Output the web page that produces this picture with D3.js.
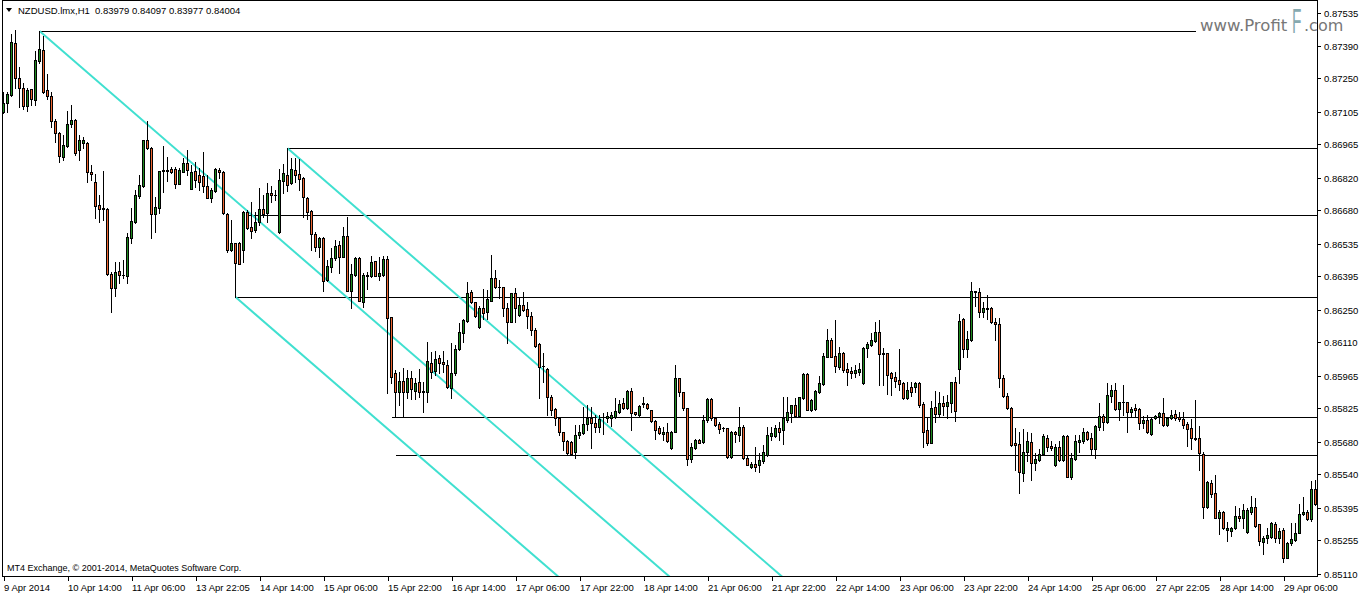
<!DOCTYPE html>
<html><head><meta charset="utf-8">
<script src="https://cdn.jsdelivr.net/npm/d3@7/dist/d3.min.js"></script>
<style>body{margin:0;background:#fff;overflow:hidden}svg{display:block}</style>
</head><body><svg id="c" width="1362" height="594"></svg>
<script>
const opens=[0.87105,0.87144,0.87178,0.87403,0.87252,0.87209,0.87131,0.87204,0.87157,0.87325,0.87373,0.87200,0.87174,0.87066,0.87014,0.86910,0.86958,0.87053,0.87070,0.86941,0.86971,0.86971,0.86846,0.86802,0.86703,0.86690,0.86686,0.86405,0.86344,0.86418,0.86400,0.86396,0.86560,0.86629,0.86742,0.86785,0.86984,0.86950,0.86664,0.86690,0.86850,0.86850,0.86858,0.86858,0.86794,0.86846,0.86884,0.86772,0.86850,0.86832,0.86828,0.86785,0.86733,0.86763,0.86854,0.86846,0.86666,0.86508,0.86537,0.86539,0.86508,0.86673,0.86608,0.86595,0.86629,0.86686,0.86668,0.86755,0.86746,0.86586,0.86807,0.86832,0.86798,0.86854,0.86837,0.86820,0.86733,0.86677,0.86577,0.86521,0.86560,0.86379,0.86435,0.86474,0.86530,0.86478,0.86569,0.86331,0.86400,0.86474,0.86284,0.86396,0.86396,0.86459,0.86396,0.86400,0.86469,0.86217,0.85976,0.85894,0.85942,0.85894,0.85955,0.85899,0.85938,0.85894,0.85894,0.86020,0.85985,0.86041,0.86024,0.86011,0.85912,0.85977,0.86080,0.86149,0.86201,0.86327,0.86282,0.86175,0.86258,0.86240,0.86288,0.86387,0.86348,0.86347,0.86258,0.86197,0.86322,0.86227,0.86271,0.86253,0.86223,0.86162,0.86102,0.86007,0.85996,0.85873,0.85821,0.85782,0.85720,0.85683,0.85680,0.85635,0.85709,0.85717,0.85756,0.85782,0.85761,0.85743,0.85786,0.85782,0.85782,0.85786,0.85808,0.85847,0.85825,0.85899,0.85806,0.85795,0.85843,0.85843,0.85815,0.85769,0.85739,0.85713,0.85722,0.85652,0.85722,0.85955,0.85894,0.85825,0.85605,0.85652,0.85687,0.85678,0.85773,0.85864,0.85782,0.85756,0.85739,0.85739,0.85613,0.85722,0.85709,0.85743,0.85609,0.85570,0.85583,0.85579,0.85596,0.85622,0.85704,0.85704,0.85739,0.85730,0.85773,0.85804,0.85838,0.85791,0.85868,0.85972,0.85817,0.85821,0.85894,0.85929,0.86046,0.86119,0.86050,0.86002,0.86063,0.85994,0.85985,0.85977,0.85981,0.85933,0.86085,0.86098,0.86115,0.86154,0.86059,0.86061,0.85977,0.85959,0.85946,0.85933,0.85868,0.85916,0.85916,0.85933,0.85843,0.85730,0.85674,0.85830,0.85799,0.85847,0.85834,0.85847,0.85936,0.85994,0.86212,0.86080,0.86119,0.86331,0.86327,0.86240,0.86258,0.86258,0.86197,0.86188,0.85955,0.85877,0.85825,0.85674,0.85670,0.85544,0.85635,0.85678,0.85587,0.85600,0.85626,0.85696,0.85661,0.85579,0.85657,0.85600,0.85704,0.85527,0.85605,0.85678,0.85683,0.85722,0.85696,0.85648,0.85743,0.85791,0.85765,0.85877,0.85903,0.85821,0.85851,0.85851,0.85808,0.85825,0.85821,0.85761,0.85773,0.85713,0.85782,0.85791,0.85804,0.85752,0.85782,0.85799,0.85786,0.85778,0.85756,0.85739,0.85696,0.85696,0.85626,0.85397,0.85501,0.85458,0.85350,0.85378,0.85298,0.85293,0.85306,0.85358,0.85350,0.85289,0.85376,0.85397,0.85322,0.85246,0.85263,0.85268,0.85324,0.85263,0.85298,0.85177,0.85242,0.85255,0.85285,0.85367,0.85376,0.85345,0.85475];
const highs=[0.87191,0.87191,0.87442,0.87459,0.87299,0.87230,0.87209,0.87204,0.87369,0.87455,0.87433,0.87269,0.87191,0.87075,0.87018,0.87005,0.87109,0.87135,0.87075,0.87005,0.86997,0.86975,0.86876,0.86837,0.86746,0.86850,0.86690,0.86413,0.86456,0.86456,0.86465,0.86582,0.86690,0.86768,0.86832,0.86984,0.87066,0.86954,0.86737,0.86850,0.86958,0.86910,0.86867,0.86867,0.86863,0.86906,0.86941,0.86876,0.86889,0.86863,0.86932,0.86832,0.86776,0.86863,0.86863,0.86850,0.86668,0.86638,0.86539,0.86543,0.86675,0.86681,0.86716,0.86673,0.86776,0.86746,0.86798,0.86785,0.86768,0.86858,0.86880,0.86948,0.86906,0.86906,0.86902,0.86824,0.86737,0.86681,0.86586,0.86565,0.86565,0.86465,0.86517,0.86551,0.86547,0.86608,0.86651,0.86448,0.86476,0.86476,0.86409,0.86413,0.86482,0.86461,0.86478,0.86482,0.86482,0.86219,0.85990,0.85981,0.85998,0.85990,0.85985,0.85955,0.85994,0.85938,0.86111,0.86067,0.86072,0.86054,0.86072,0.86033,0.86106,0.86098,0.86193,0.86210,0.86370,0.86335,0.86284,0.86266,0.86340,0.86335,0.86487,0.86422,0.86379,0.86350,0.86279,0.86324,0.86344,0.86301,0.86327,0.86284,0.86240,0.86171,0.86106,0.86063,0.85998,0.85881,0.85825,0.85786,0.85722,0.85685,0.85683,0.85752,0.85752,0.85830,0.85838,0.85830,0.85795,0.85795,0.85804,0.85808,0.85808,0.85868,0.85860,0.85868,0.85903,0.85912,0.85808,0.85838,0.85873,0.85847,0.85817,0.85773,0.85747,0.85743,0.85761,0.85724,0.86011,0.85957,0.85896,0.85827,0.85674,0.85691,0.85691,0.85795,0.85868,0.85868,0.85786,0.85765,0.85743,0.85741,0.85726,0.85724,0.85830,0.85752,0.85622,0.85592,0.85657,0.85631,0.85665,0.85743,0.85743,0.85752,0.85765,0.85873,0.85873,0.85840,0.85868,0.85873,0.85977,0.85977,0.85864,0.85903,0.85964,0.86063,0.86167,0.86128,0.86206,0.86089,0.86067,0.86020,0.86002,0.86011,0.86020,0.86089,0.86111,0.86149,0.86197,0.86206,0.86085,0.86063,0.85981,0.85981,0.86080,0.85938,0.85938,0.85938,0.85938,0.85938,0.85851,0.85786,0.85856,0.85899,0.85894,0.85877,0.85881,0.85938,0.85959,0.86232,0.86214,0.86158,0.86370,0.86333,0.86344,0.86284,0.86314,0.86260,0.86214,0.86214,0.85968,0.85890,0.85830,0.85739,0.85722,0.85735,0.85722,0.85717,0.85631,0.85648,0.85713,0.85709,0.85683,0.85670,0.85683,0.85709,0.85709,0.85631,0.85709,0.85709,0.85739,0.85726,0.85717,0.85752,0.85847,0.85799,0.85933,0.85925,0.85933,0.85853,0.85925,0.85853,0.85830,0.85843,0.85827,0.85791,0.85795,0.85782,0.85795,0.85808,0.85868,0.85786,0.85817,0.85817,0.85808,0.85808,0.85765,0.85778,0.85860,0.85747,0.85635,0.85510,0.85514,0.85536,0.85384,0.85380,0.85332,0.85311,0.85402,0.85393,0.85410,0.85393,0.85445,0.85436,0.85324,0.85272,0.85306,0.85332,0.85332,0.85306,0.85306,0.85246,0.85328,0.85328,0.85410,0.85440,0.85384,0.85510,0.85514];
const lows=[0.87100,0.87105,0.87174,0.87209,0.87126,0.87118,0.87109,0.87135,0.87135,0.87317,0.87189,0.87161,0.87040,0.86975,0.86889,0.86897,0.86954,0.87040,0.86919,0.86897,0.86949,0.86802,0.86811,0.86647,0.86629,0.86638,0.86400,0.86240,0.86309,0.86366,0.86387,0.86366,0.86539,0.86625,0.86733,0.86781,0.86947,0.86560,0.86586,0.86668,0.86759,0.86807,0.86841,0.86776,0.86792,0.86844,0.86832,0.86770,0.86781,0.86768,0.86759,0.86731,0.86716,0.86759,0.86820,0.86666,0.86500,0.86506,0.86305,0.86446,0.86456,0.86601,0.86560,0.86586,0.86616,0.86651,0.86629,0.86716,0.86724,0.86584,0.86755,0.86763,0.86794,0.86802,0.86768,0.86651,0.86642,0.86508,0.86504,0.86478,0.86331,0.86374,0.86413,0.86465,0.86409,0.86476,0.86329,0.86258,0.86396,0.86286,0.86262,0.86340,0.86392,0.86394,0.86379,0.86398,0.85890,0.85933,0.85786,0.85838,0.85786,0.85868,0.85864,0.85864,0.85873,0.85808,0.85851,0.85955,0.85968,0.85977,0.85981,0.85912,0.85868,0.85968,0.86076,0.86111,0.86199,0.86279,0.86219,0.86173,0.86210,0.86210,0.86286,0.86346,0.86301,0.86223,0.86106,0.86195,0.86197,0.86223,0.86245,0.86171,0.86141,0.86089,0.85868,0.85938,0.85795,0.85795,0.85752,0.85709,0.85644,0.85622,0.85622,0.85609,0.85696,0.85715,0.85730,0.85652,0.85722,0.85722,0.85713,0.85765,0.85747,0.85782,0.85804,0.85823,0.85823,0.85730,0.85797,0.85791,0.85830,0.85823,0.85765,0.85691,0.85713,0.85687,0.85678,0.85648,0.85720,0.85877,0.85817,0.85579,0.85592,0.85650,0.85672,0.85676,0.85765,0.85773,0.85747,0.85717,0.85726,0.85611,0.85611,0.85678,0.85683,0.85607,0.85577,0.85566,0.85553,0.85549,0.85587,0.85620,0.85687,0.85702,0.85687,0.85670,0.85765,0.85765,0.85786,0.85786,0.85864,0.85815,0.85812,0.85817,0.85890,0.85925,0.86044,0.86044,0.85981,0.85994,0.85981,0.85925,0.85955,0.85959,0.85968,0.85931,0.86046,0.86093,0.86111,0.85925,0.85925,0.85886,0.85881,0.85916,0.85903,0.85864,0.85866,0.85877,0.85894,0.85830,0.85657,0.85665,0.85672,0.85765,0.85786,0.85795,0.85782,0.85808,0.85769,0.85933,0.86046,0.86046,0.86117,0.86266,0.86219,0.86219,0.86210,0.86193,0.86119,0.85916,0.85873,0.85823,0.85661,0.85557,0.85458,0.85510,0.85596,0.85514,0.85557,0.85596,0.85622,0.85639,0.85644,0.85574,0.85596,0.85596,0.85525,0.85518,0.85600,0.85635,0.85674,0.85687,0.85622,0.85609,0.85730,0.85730,0.85761,0.85851,0.85817,0.85773,0.85795,0.85722,0.85786,0.85786,0.85735,0.85739,0.85717,0.85709,0.85778,0.85761,0.85747,0.85747,0.85780,0.85773,0.85769,0.85739,0.85661,0.85648,0.85687,0.85557,0.85350,0.85395,0.85440,0.85348,0.85281,0.85302,0.85250,0.85272,0.85304,0.85337,0.85306,0.85287,0.85367,0.85311,0.85233,0.85194,0.85242,0.85263,0.85246,0.85242,0.85159,0.85175,0.85233,0.85250,0.85283,0.85363,0.85341,0.85337,0.85406];
const closes=[0.87144,0.87183,0.87408,0.87252,0.87209,0.87131,0.87200,0.87161,0.87330,0.87377,0.87191,0.87174,0.87066,0.87014,0.86915,0.86962,0.87053,0.87070,0.86928,0.86984,0.86984,0.86846,0.86837,0.86698,0.86686,0.86686,0.86405,0.86344,0.86413,0.86400,0.86401,0.86565,0.86634,0.86746,0.86789,0.86984,0.86949,0.86664,0.86694,0.86850,0.86854,0.86853,0.86846,0.86794,0.86854,0.86884,0.86854,0.86846,0.86811,0.86802,0.86785,0.86733,0.86768,0.86858,0.86846,0.86668,0.86508,0.86539,0.86452,0.86448,0.86673,0.86603,0.86590,0.86629,0.86686,0.86664,0.86755,0.86746,0.86745,0.86811,0.86841,0.86789,0.86858,0.86832,0.86815,0.86737,0.86673,0.86577,0.86521,0.86560,0.86374,0.86439,0.86474,0.86526,0.86478,0.86569,0.86331,0.86405,0.86474,0.86288,0.86400,0.86400,0.86456,0.86396,0.86409,0.86469,0.86214,0.85959,0.85894,0.85942,0.85894,0.85955,0.85907,0.85933,0.85894,0.85899,0.86028,0.85981,0.86037,0.86020,0.86015,0.85916,0.85977,0.86080,0.86154,0.86206,0.86322,0.86284,0.86223,0.86258,0.86236,0.86297,0.86387,0.86348,0.86347,0.86258,0.86197,0.86322,0.86258,0.86271,0.86249,0.86223,0.86162,0.86093,0.86002,0.86006,0.85873,0.85817,0.85782,0.85722,0.85683,0.85631,0.85627,0.85709,0.85722,0.85756,0.85782,0.85761,0.85743,0.85778,0.85787,0.85791,0.85795,0.85812,0.85843,0.85825,0.85899,0.85804,0.85799,0.85834,0.85847,0.85825,0.85769,0.85730,0.85717,0.85722,0.85683,0.85720,0.85955,0.85894,0.85825,0.85605,0.85657,0.85687,0.85674,0.85773,0.85864,0.85782,0.85752,0.85735,0.85738,0.85613,0.85722,0.85713,0.85743,0.85609,0.85579,0.85583,0.85570,0.85600,0.85635,0.85709,0.85717,0.85739,0.85722,0.85782,0.85808,0.85838,0.85791,0.85871,0.85972,0.85817,0.85860,0.85899,0.85933,0.86050,0.86119,0.86046,0.86007,0.86063,0.85990,0.85981,0.85977,0.85990,0.85994,0.86085,0.86102,0.86119,0.86154,0.86059,0.86063,0.85968,0.85955,0.85942,0.85929,0.85868,0.85903,0.85894,0.85933,0.85838,0.85722,0.85674,0.85825,0.85799,0.85847,0.85834,0.85851,0.85936,0.85812,0.86201,0.86080,0.86124,0.86331,0.86327,0.86240,0.86258,0.86253,0.86197,0.86188,0.85955,0.85877,0.85825,0.85665,0.85665,0.85549,0.85635,0.85683,0.85587,0.85605,0.85626,0.85704,0.85657,0.85652,0.85657,0.85600,0.85704,0.85527,0.85609,0.85683,0.85687,0.85722,0.85691,0.85648,0.85747,0.85791,0.85765,0.85881,0.85903,0.85821,0.85851,0.85852,0.85808,0.85821,0.85817,0.85761,0.85773,0.85722,0.85778,0.85791,0.85804,0.85752,0.85782,0.85795,0.85782,0.85778,0.85752,0.85735,0.85696,0.85691,0.85631,0.85397,0.85505,0.85453,0.85350,0.85376,0.85306,0.85306,0.85306,0.85358,0.85350,0.85384,0.85384,0.85397,0.85315,0.85250,0.85263,0.85276,0.85328,0.85263,0.85293,0.85177,0.85242,0.85259,0.85285,0.85367,0.85376,0.85345,0.85475,0.85410];

const priceLabels=["0.87535","0.87390","0.87250","0.87105","0.86965","0.86820","0.86680","0.86535","0.86395","0.86250","0.86110","0.85965","0.85825","0.85680","0.85540","0.85395","0.85255","0.85110"];
const timeLabels=["9 Apr 2014","10 Apr 14:00","11 Apr 06:00","13 Apr 22:05","14 Apr 14:00","15 Apr 06:00","15 Apr 22:00","16 Apr 14:00","17 Apr 06:00","17 Apr 22:00","18 Apr 14:00","21 Apr 06:00","21 Apr 22:00","22 Apr 14:00","23 Apr 06:00","23 Apr 22:00","24 Apr 14:00","25 Apr 06:00","27 Apr 22:05","28 Apr 14:00","29 Apr 06:00"];
const timeLabelBars=[0,16,32,48,64,80,96,112,128,144,160,176,192,208,224,240,256,272,288,304,320];

// drawn objects: horizontal levels [startBar, endBar, price]
const levelStart=[9,71,61,58,97,98];
const levelEnd=[298,340,340,340,340,340];
const levelPrice=[0.87455,0.86948,0.86658,0.86305,0.85788,0.85622];
// parallel channel lines: anchor bar, anchor price, common slope per bar
const channelBar=[9,71,58];
const channelPrice=[0.87455,0.86948,0.86305];
const channelSlope=-0.00014975;

const headerText="NZDUSD.lmx,H1  0.83979 0.84097 0.83977 0.84004";
const copyText="MT4 Exchange, \u00a9 2001-2014, MetaQuotes Software Corp.";

const W=1362,H=594,L=2,R=1317,T=0,B=576;
const svg=d3.select('#c');
const FONT="'Liberation Sans', Arial, sans-serif";
const x=d3.scaleLinear().domain([0,328]).range([3.5,1315.5]);
const y=d3.scaleLinear().domain([0.85110,0.87535]).range([573.5,12.5]);

svg.append('rect').attr('width',W).attr('height',H).attr('fill','#fff');
svg.append('defs').append('clipPath').attr('id','pc').append('rect')
  .attr('x',L+1).attr('y',T+1).attr('width',R-L-1).attr('height',B-T-1);
const plot=svg.append('g').attr('clip-path','url(#pc)');

// levels
plot.append('g').selectAll('line').data(levelPrice).join('line')
  .attr('x1',(d,i)=>x(levelStart[i])).attr('x2',(d,i)=>x(levelEnd[i]))
  .attr('y1',d=>Math.round(y(d))+0.5).attr('y2',d=>Math.round(y(d))+0.5)
  .attr('stroke','#000').attr('stroke-width',1).attr('shape-rendering','crispEdges');

// channel lines
plot.append('g').selectAll('line').data(channelPrice).join('line')
  .attr('x1',(d,i)=>x(channelBar[i])).attr('y1',d=>y(d))
  .attr('x2',(d,i)=>x(channelBar[i]+250)).attr('y2',d=>y(d+channelSlope*250))
  .attr('stroke','#40E0D0').attr('stroke-width',2);

// candles
const idx=d3.range(opens.length);
const top_=i=>Math.round(y(Math.max(opens[i],closes[i])));
const bot_=i=>Math.round(y(Math.min(opens[i],closes[i])));
const cg=plot.append('g').attr('shape-rendering','crispEdges');
cg.selectAll('rect.w').data(idx).join('rect').attr('class','w')
  .attr('x',i=>x(i)-0.5).attr('width',1)
  .attr('y',i=>Math.round(y(highs[i])))
  .attr('height',i=>Math.round(y(lows[i]))-Math.round(y(highs[i]))+1)
  .attr('fill','#000');
cg.selectAll('rect.b').data(idx).join('rect').attr('class','b')
  .attr('x',i=>x(i)-1.5).attr('width',3)
  .attr('y',top_).attr('height',i=>bot_(i)-top_(i)+1)
  .attr('fill','#000');
cg.selectAll('rect.f').data(idx.filter(i=>bot_(i)-top_(i)>1)).join('rect').attr('class','f')
  .attr('x',i=>x(i)-0.5).attr('width',1)
  .attr('y',i=>top_(i)+1).attr('height',i=>bot_(i)-top_(i)-1)
  .attr('fill',i=>closes[i]>=opens[i]?'#1e8a1e':'#ee6530');

// frame
const fr=svg.append('g').attr('shape-rendering','crispEdges').attr('stroke','#000').attr('fill','none');
fr.append('line').attr('x1',L+0.5).attr('x2',L+0.5).attr('y1',T).attr('y2',B+1);
fr.append('line').attr('x1',L).attr('x2',R+1).attr('y1',B+0.5).attr('y2',B+0.5);
fr.append('line').attr('x1',R+0.5).attr('x2',R+0.5).attr('y1',T).attr('y2',B+1);
fr.append('line').attr('x1',L).attr('x2',R+1).attr('y1',T+0.5).attr('y2',T+0.5);

// y axis (right)
const yAxis=d3.axisRight(y).tickValues(priceLabels.map(Number)).tickFormat((d,i)=>priceLabels[i]).tickSize(3).tickPadding(3);
const ya=svg.append('g').attr('transform',`translate(${R+1},0)`).call(yAxis);
ya.select('.domain').remove();
ya.selectAll('.tick line').attr('stroke','#000').attr('shape-rendering','crispEdges');
ya.selectAll('.tick').attr('transform',d=>`translate(0,${Math.round(y(d))+0.5})`);
ya.selectAll('text').attr('fill','#000').style('font-family',FONT).style('font-size','9.5px');

// x axis
const xAxis=d3.axisBottom(x).tickValues(timeLabelBars).tickFormat((d,i)=>timeLabels[i]).tickSize(4).tickPadding(3);
const xa=svg.append('g').attr('transform',`translate(0,${B+1})`).call(xAxis);
xa.select('.domain').remove();
xa.selectAll('.tick line').attr('stroke','#000').attr('shape-rendering','crispEdges');
xa.selectAll('text').attr('fill','#000').attr('text-anchor','start').attr('x',0)
  .style('font-family',FONT).style('font-size','9.5px');

// header
svg.append('path').attr('d','M6,8 L12,8 L9,12 Z').attr('fill','#000');
svg.append('text').attr('x',18).attr('y',14).text(headerText).style('white-space','pre')
  .style('font-family',FONT).style('font-size','9.5px').attr('fill','#000');

// copyright
svg.append('text').attr('x',7).attr('y',571).text(copyText)
  .style('font-family',FONT).style('font-size','9px').attr('fill','#000');

// watermark
const wm=svg.append('g').style('font-family',"'DejaVu Sans', sans-serif");
wm.append('text').attr('x',1200).attr('y',31).text('www.Profit').attr('fill','#777').style('font-size','16.5px');
wm.append('text').attr('transform','translate(1292,33) scale(0.55,1.25)').text('F').attr('fill','#86a9b0')
  .style('font-family',"'Liberation Sans', sans-serif").style('font-size','28px');
wm.append('text').attr('x',1304).attr('y',31).text('.com').attr('fill','#777').style('font-size','16px');
</script></body></html>
